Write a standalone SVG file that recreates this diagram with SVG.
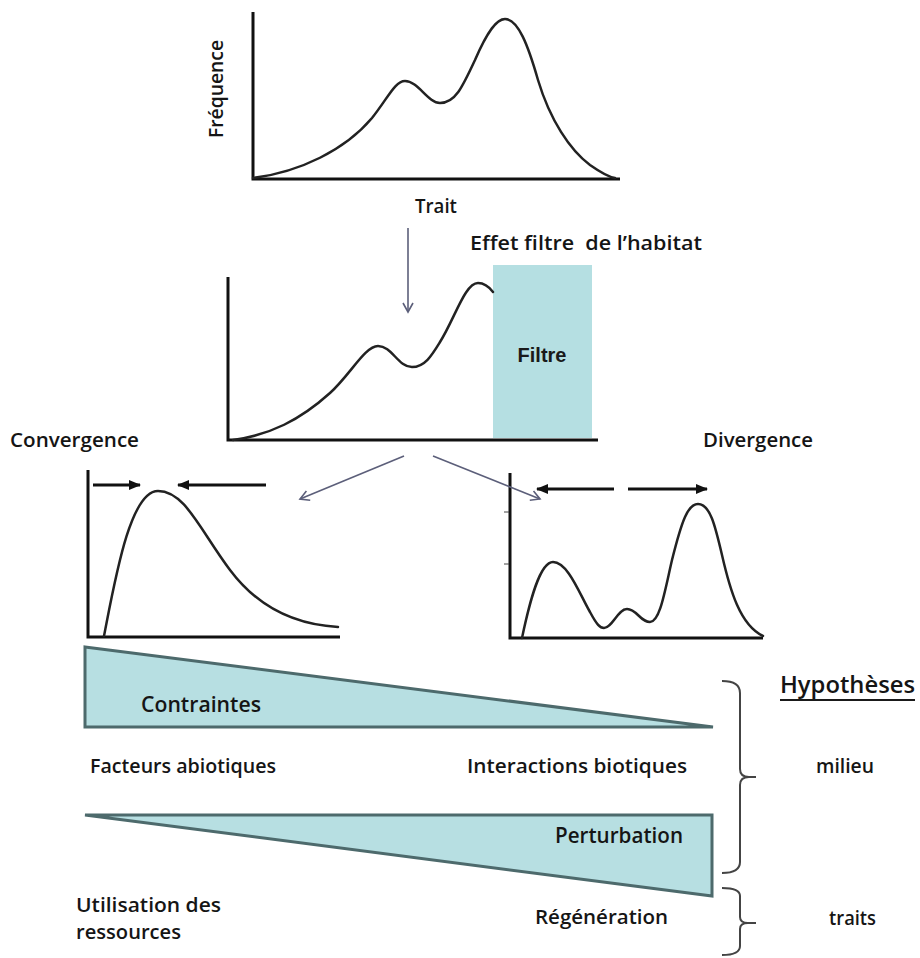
<svg xmlns="http://www.w3.org/2000/svg" width="920" height="958" viewBox="0 0 920 958">
<defs>
<style>
.t{font-family:"Open Sans","Noto Sans","Liberation Sans",sans-serif;fill:#151515;font-weight:600;}
.ax{stroke:#111;stroke-width:3;fill:none;}
.cv{stroke:#222;stroke-width:2.5;fill:none;stroke-linecap:round;}
.ga{stroke:#5c5f7a;stroke-width:1.6;fill:none;}
.ba{stroke:#111;stroke-width:3;fill:none;}
.tri{fill:#b7dfe2;stroke:#4d6a6c;stroke-width:3;stroke-linejoin:miter;}
.br{stroke:#444;stroke-width:2;fill:none;}
</style>
<marker id="open" viewBox="0 0 12 12" refX="10" refY="6" markerWidth="12" markerHeight="12" markerUnits="userSpaceOnUse" orient="auto">
<path d="M1,1 L10,6 L1,11" fill="none" stroke="#5c5f7a" stroke-width="1.6"/>
</marker>
<marker id="solid" viewBox="0 0 12 10" refX="11" refY="5" markerWidth="12" markerHeight="10" markerUnits="userSpaceOnUse" orient="auto">
<path d="M0,0 L12,5 L0,10 Z" fill="#111"/>
</marker>
</defs>
<rect width="920" height="958" fill="#fff"/>

<g id="chart-initial">
<path class="ax" d="M253,12 V179 H620"/>
<path class="cv" d="M253,178 C300,172 345,150 372,118 C388,98 395,81 405,81 C418,81 428,103 440,103 C455,103 462,88 475,60 C488,30 497,19 505,19 C518,19 528,45 538,80 C550,120 570,150 590,165 C600,172 608,177 615,178"/>
<text class="t" font-size="20" transform="translate(223,89) rotate(-90)" text-anchor="middle" textLength="98" lengthAdjust="spacingAndGlyphs">Fréquence</text>
<text class="t" font-size="20" x="415" y="213" textLength="42" lengthAdjust="spacingAndGlyphs">Trait</text>
</g>

<g id="chart-filtered">
<rect x="493" y="265" width="99" height="173" fill="#b5dfe2"/>
<path class="ax" d="M228,277 V440 H598"/>
<path class="cv" d="M233,440 C270,435 300,420 330,393 C350,375 365,346 378,346 C392,346 398,367 412,367 C425,367 432,355 440,342 C455,318 465,283 478,283 C485,283 490,288 493,292"/>
<text x="542" y="362" font-family="Liberation Sans,Arial,sans-serif" font-weight="bold" font-size="20" fill="#1a1a1a" text-anchor="middle">Filtre</text>
<text class="t" font-size="20" x="470" y="250" textLength="232" lengthAdjust="spacingAndGlyphs" xml:space="preserve">Effet filtre  de l’habitat</text>
</g>

<g id="chart-convergence">
<text class="t" font-size="20" x="10" y="447" textLength="129" lengthAdjust="spacingAndGlyphs">Convergence</text>
<path class="ax" d="M88,470 V637 H340"/>
<path class="cv" d="M104,636 C115,580 130,491 158,491 C185,491 200,530 230,570 C260,610 300,625 338,627"/>
<line class="ba" x1="93" y1="485" x2="140" y2="485" marker-end="url(#solid)"/>
<line class="ba" x1="266" y1="485" x2="178" y2="485" marker-end="url(#solid)"/>
</g>

<g id="chart-divergence">
<text class="t" font-size="20" x="703" y="447" textLength="110" lengthAdjust="spacingAndGlyphs">Divergence</text>
<path class="ax" d="M510,473 V638 H763"/>
<path d="M504,512 H509 M504,564 H509" stroke="#444" stroke-width="1"/>
<path class="cv" d="M522,638 C530,600 540,562 553,562 C568,562 580,595 590,612 C597,625 600,628 604,628 C612,628 618,609 627,609 C637,609 640,622 650,622 C660,622 665,590 672,560 C682,520 688,504 698,504 C710,504 715,525 722,555 C730,590 740,625 763,636"/>
<line class="ba" x1="614" y1="489" x2="537" y2="489" marker-end="url(#solid)"/>
<line class="ba" x1="628" y1="489" x2="707" y2="489" marker-end="url(#solid)"/>
</g>

<g id="connectors">
<line class="ga" x1="408" y1="228" x2="408" y2="312" marker-end="url(#open)"/>
<line class="ga" x1="404" y1="456" x2="300" y2="499" marker-end="url(#open)"/>
<line class="ga" x1="433" y1="456" x2="540" y2="499" marker-end="url(#open)"/>
</g>

<g id="contraintes">
<polygon class="tri" points="85,647 713,727 85,727"/>
<text class="t" font-size="21" x="141" y="712" textLength="120" lengthAdjust="spacingAndGlyphs">Contraintes</text>
</g>

<g id="perturbation">
<polygon class="tri" points="85,815 712,815 712,896"/>
<text class="t" font-size="21" x="555" y="843" textLength="128" lengthAdjust="spacingAndGlyphs">Perturbation</text>
</g>

<g id="labels">
<text class="t" font-size="20" x="90" y="773" textLength="186" lengthAdjust="spacingAndGlyphs">Facteurs abiotiques</text>
<text class="t" font-size="20" x="467" y="773" textLength="220" lengthAdjust="spacingAndGlyphs">Interactions biotiques</text>
<text class="t" font-size="20" x="76" y="912" textLength="145" lengthAdjust="spacingAndGlyphs">Utilisation des</text>
<text class="t" font-size="20" x="76" y="939" textLength="105" lengthAdjust="spacingAndGlyphs">ressources</text>
<text class="t" font-size="20" x="535" y="924" textLength="133" lengthAdjust="spacingAndGlyphs">Régénération</text>
</g>

<g id="hypotheses">
<text class="t" font-size="24" x="780" y="693" textLength="135" lengthAdjust="spacingAndGlyphs">Hypothèses</text>
<line x1="780" y1="700" x2="915" y2="700" stroke="#1a1a1a" stroke-width="2"/>
<path class="br" d="M722,681 Q740,681 740,693 L740,769 Q740,777 749,777 L756,777 M749,777 Q740,777 740,785 L740,862 Q740,873 722,873"/>
<text class="t" font-size="20" x="816" y="773" textLength="58" lengthAdjust="spacingAndGlyphs">milieu</text>
<path class="br" d="M722,888 Q740,888 740,896 L740,917 Q740,923 748,923 L756,923 M748,923 Q740,923 740,929 L740,946 Q740,955 722,955"/>
<text class="t" font-size="20" x="829" y="925" textLength="47" lengthAdjust="spacingAndGlyphs">traits</text>
</g>
</svg>
